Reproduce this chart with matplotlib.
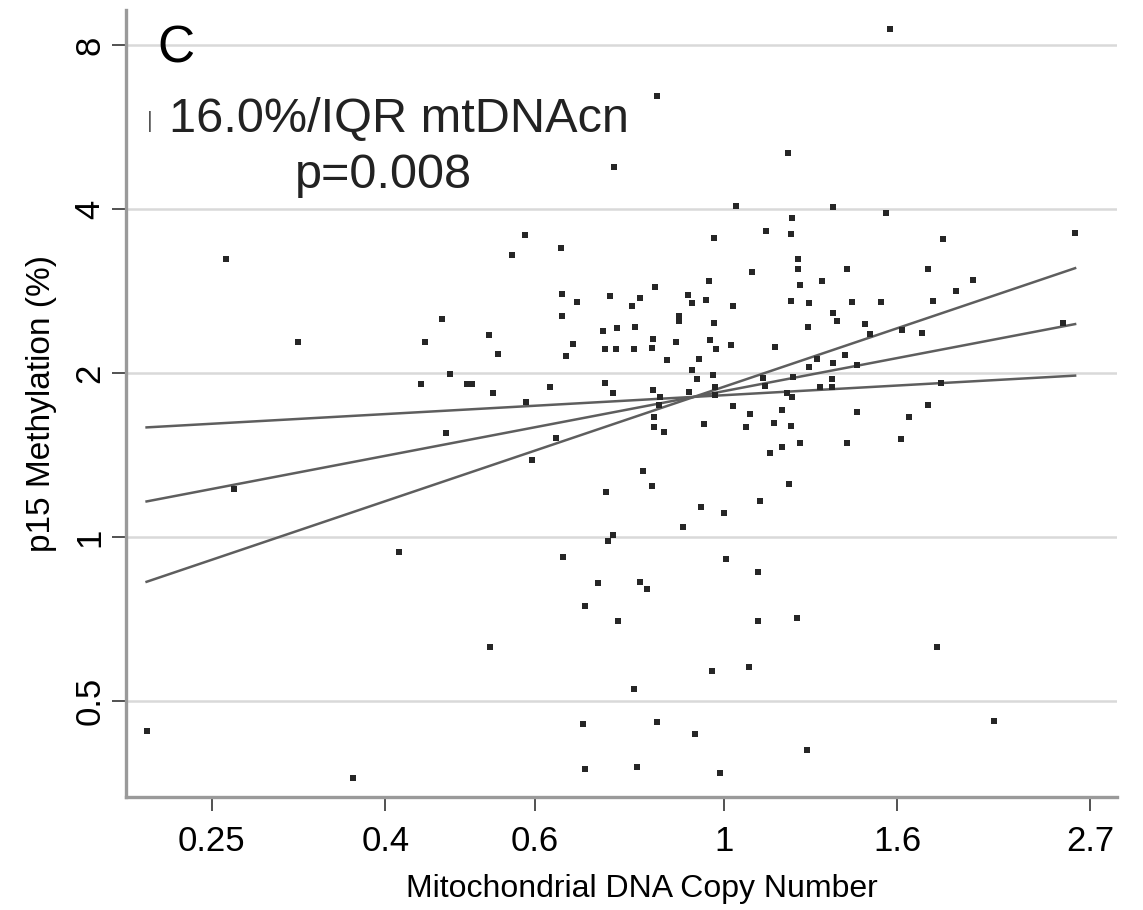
import numpy as np
import matplotlib.pyplot as plt
from matplotlib.ticker import NullLocator

plt.rcParams['font.family'] = ['Liberation Sans', 'DejaVu Sans']

# ln(mtDNA copy number) and ln(p15 methylation %)
ln_mtdna = [
    -1.349, -0.763, -1.153, -0.809, -0.741, -0.820, -0.752, -1.327, -0.880, -1.563,
    -1.004, -0.695, -0.682, -0.538, -0.573, -0.441, -0.438, -0.397, -0.438, -0.636,
    -0.408, -0.611, -0.427, -0.625, -0.470, -0.536, -0.454, -0.519, -0.435, -0.340,
    -0.376, -0.633, -0.381, -0.376, -0.180, -0.297, 0.034, 0.185, -0.026, 0.115,
    0.183, 0.175, 0.202, 0.202, 0.077, 0.334, 0.554, -0.040, 0.267, 0.676,
    -0.186, 0.207, 0.630, -0.308, -0.227, -0.248, -0.096, -0.086, -0.048, 0.025,
    0.183, 0.231, 0.348, 0.427, 0.567, -0.121, -0.121, -0.026, 0.296, 0.307,
    0.229, 0.383, 0.397, 0.483, 0.538, 0.920, -0.327, -0.289, -0.240, -0.191,
    -0.194, -0.129, -0.037, -0.021, 0.020, 0.139, -0.321, -0.292, -0.243, -0.153,
    -0.067, 0.231, 0.253, 0.296, 0.329, 0.362, -0.086, -0.072, -0.029, 0.107,
    0.112, 0.188, 0.294, 0.294, 0.589, 0.261, -0.321, -0.300, -0.191, -0.172,
    -0.175, -0.094, -0.023, -0.023, 0.172, 0.185, 0.025, 0.072, 0.158, 0.362,
    0.554, 0.502, -0.189, -0.189, -0.162, -0.053, 0.061, 0.137, 0.183, 0.207,
    0.158, 0.126, 0.334, 0.481, -0.218, -0.194, -0.319, 0.177, 0.099, -0.061,
    0.001, -0.110, -0.300, -0.313, 0.451, 0.296, 0.440, 0.595, 0.952, 0.007,
    0.093, -0.227, -0.208, -0.286, 0.093, 0.199, -0.031, 0.069, -0.243, -0.180,
    -0.078, -0.235, -0.010, 0.578, 0.733, 0.226,
]
ln_p15 = [
    1.175, 0.921, 0.824, 0.824, 0.688, 0.646, 0.439, 0.202, -0.064, -0.820,
    -1.019, 0.646, 0.646, 1.276, 1.191, 1.221, 1.027, 0.993, 0.934, 0.853,
    0.815, 0.773, 0.765, 0.608, 0.634, 0.570, 0.418, 0.325, -0.085, -0.195,
    -0.292, -0.465, -0.791, -0.981, 1.863, 1.563, 1.399, 1.348, 1.263, 1.293,
    1.280, 1.623, 1.175, 1.132, 1.120, 1.132, 1.132, 1.082, 1.082, 1.086,
    1.056, 1.065, 1.039, 1.018, 1.010, 0.976, 1.022, 0.989, 1.001, 0.976,
    0.997, 0.989, 0.993, 0.993, 0.997, 0.934, 0.913, 0.904, 0.946, 0.913,
    0.887, 0.900, 0.858, 0.874, 0.862, 0.904, 0.870, 0.883, 0.887, 0.836,
    0.798, 0.824, 0.832, 0.794, 0.811, 0.803, 0.794, 0.794, 0.794, 0.748,
    0.752, 0.718, 0.752, 0.735, 0.769, 0.727, 0.705, 0.667, 0.684, 0.672,
    0.638, 0.676, 0.667, 0.634, 0.650, 0.634, 0.650, 0.608, 0.621, 0.591,
    0.557, 0.612, 0.634, 0.600, 0.608, 0.591, 0.553, 0.519, 0.536, 0.528,
    0.557, 0.507, 0.507, 0.464, 0.443, 0.477, 0.464, 0.481, 0.469, 0.397,
    0.380, 0.355, 0.397, 0.414, 0.279, 0.215, 0.190, 0.224, 0.152, 0.126,
    0.101, 0.042, 0.008, -0.017, 2.147, 1.394, 1.369, 1.259, 1.284, -0.093,
    -0.148, -0.191, -0.220, -0.355, -0.355, -0.343, -0.567, -0.550, -0.643, -0.782,
    -0.833, -0.973, -0.998, -0.465, -0.778, -0.901,
]

# regression slope (ln-ln) with CI limits, lines drawn through the means
slope_est = 0.298
slope_lo = 0.087
slope_hi = 0.527
mean_ln_x = -0.080
mean_ln_y = 0.592

x_ticks = [0.25, 0.4, 0.6, 1, 1.6, 2.7]
x_tick_labels = ['0.25', '0.4', '0.6', '1', '1.6', '2.7']
y_ticks = [0.5, 1, 2, 4, 8]
y_tick_labels = ['0.5', '1', '2', '4', '8']

fig = plt.figure(figsize=(11.43, 9.10), dpi=100)
ax = fig.add_axes([0.110, 0.124, 0.867, 0.865])

ax.set_xscale('log')
ax.set_yscale('log')

ax.scatter(np.exp(ln_mtdna), np.exp(ln_p15), marker='s', s=15, color='#262626',
           linewidths=0, zorder=3)

xs = np.linspace(min(ln_mtdna), max(ln_mtdna), 50)
for b in (slope_lo, slope_est, slope_hi):
    ax.plot(np.exp(xs), np.exp(mean_ln_y + b * (xs - mean_ln_x)),
            color='#5e5e5e', lw=1.8, zorder=2)

ax.set_xlim(0.198, 2.90)
ax.set_ylim(0.333, 9.27)

ax.set_xticks(x_ticks)
ax.set_xticklabels(x_tick_labels)
ax.set_yticks(y_ticks)
ax.set_yticklabels(y_tick_labels, rotation=90, va='center')
ax.xaxis.set_minor_locator(NullLocator())
ax.yaxis.set_minor_locator(NullLocator())

ax.tick_params(axis='both', length=10, width=1.2, color='#333333', labelsize=25)
ax.tick_params(axis='x', pad=10)
ax.tick_params(axis='y', pad=4)
ax.grid(axis='y', color='#d9d9d9', lw=1.8, zorder=0)
ax.set_axisbelow(True)

for side in ('top', 'right'):
    ax.spines[side].set_visible(False)
for side in ('left', 'bottom'):
    ax.spines[side].set_color('#9a9a9a')
    ax.spines[side].set_linewidth(2.4)

ax.set_xlabel('Mitochondrial DNA Copy Number', fontsize=23)
ax.xaxis.set_label_coords(0.521, -0.098)
ax.set_ylabel('p15 Methylation (%)', fontsize=24, labelpad=12)

ax.text(0.032, 0.933, 'C', transform=ax.transAxes, fontsize=37, va='baseline')
ax.text(0.021, 0.852, '|', transform=ax.transAxes, fontsize=16,
        color='#555555', va='baseline')
ax.text(0.276, 0.845, '16.0%/IQR mtDNAcn', transform=ax.transAxes,
        fontsize=35, ha='center', va='baseline', color='#222222')
ax.text(0.260, 0.774, 'p=0.008', transform=ax.transAxes,
        fontsize=35, ha='center', va='baseline', color='#222222')

fig.savefig('out.png', dpi=100, facecolor='white')
